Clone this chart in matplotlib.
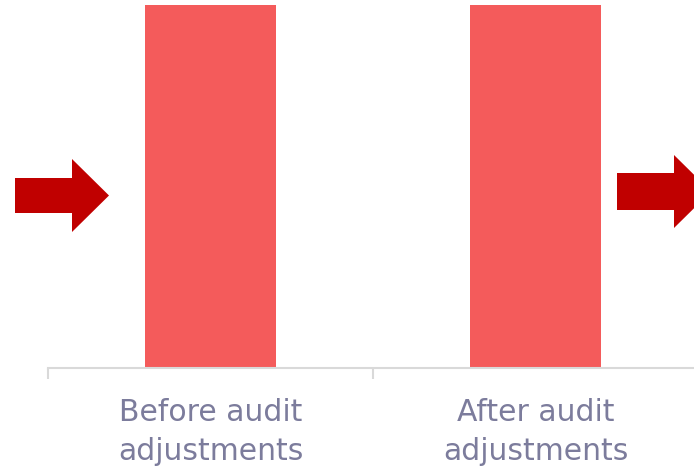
import matplotlib
matplotlib.use("Agg")
import matplotlib.pyplot as plt
from matplotlib.patches import Polygon

categories = ["Before audit\nadjustments", "After audit\nadjustments"]
values = [100, 100]

W, H = 694, 466
fig = plt.figure(figsize=(W / 100, H / 100), dpi=100)
fig.patch.set_facecolor("white")

# axes area in pixels: left 48, baseline at 367.5, top at 0, one category = 325 px
ax = fig.add_axes([48 / W, (H - 367.5) / H, 650 / W, 367.5 / H])
x = range(len(categories))
ax.bar(x, values, width=131 / 325, color="#F45B5B", zorder=2)
ax.set_xlim(-0.5, 1.5)
ax.set_ylim(0, max(values) * 367.5 / 362.5)

for s in ["top", "right", "left"]:
    ax.spines[s].set_visible(False)
ax.spines["bottom"].set_color("#D9D9D9")
ax.spines["bottom"].set_linewidth(1.5)
ax.set_yticks([])
ax.set_xticks([-0.5, 0.5, 1.5])
ax.set_xticklabels([])
ax.tick_params(axis="x", length=8, width=1.5, color="#D9D9D9")
ax.set_xticks(list(x), minor=True)
ax.set_xticklabels(categories, minor=True, fontsize=21.5, color="#7C7C9C",
                   family="DejaVu Sans", linespacing=1.45)
ax.tick_params(axis="x", which="minor", length=0, pad=22)


def arrow(x0, x1, xh, yb0, yb1, yh0, yh1):
    """Block arrow given in pixel coordinates (y measured from the top)."""
    tip_y = (yh0 + yh1) / 2
    pts = [(x0, yb0), (xh, yb0), (xh, yh0), (x1, tip_y),
           (xh, yh1), (xh, yb1), (x0, yb1)]
    pts = [(px / W, 1 - py / H) for px, py in pts]
    fig.patches.append(Polygon(pts, closed=True, transform=fig.transFigure,
                               facecolor="#C00000", edgecolor="none"))


arrow(15, 109, 72, 178, 213, 159, 232)
arrow(617, 711, 674, 173, 210, 155, 228)

fig.savefig("out.png", dpi=100)
